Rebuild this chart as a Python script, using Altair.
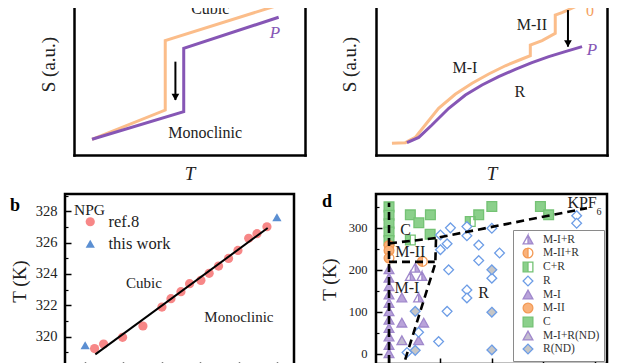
import altair as alt
import pandas as pd

FONT = "Liberation Serif"
INK = "#222222"
ORANGE = "#fbbd8a"
PURPLE = "#8656b5"
FRAME_W = 2.5

# ---------------- panel a : NPG schematic S(T) ----------------
a_series = ["0", "0", "0", "0", "P", "P", "P", "P"]
a_T = [0.78, 3.95, 3.95, 8.86, 0.78, 4.75, 4.75, 8.86]
a_S = [1.07, 3.06, 7.78, 10.20, 1.07, 2.95, 7.26, 9.37]
a_arrow_T = [4.39]
a_arrow_from = [6.35]
a_arrow_to = [3.74]
a_labels = ["Cubic", "Monoclinic"]
a_label_T = [5.90, 5.68]
a_label_S = [9.93, 1.48]
a_plabel_T = [8.70]
a_plabel_S = [8.30]

# ---------------- panel c : KPF6 schematic S(T) ----------------
c_orange_T = [0.69, 1.27, 1.70, 2.13, 2.71, 3.43, 4.16, 4.88, 5.60, 6.32, 6.68, 6.68,
              7.19, 7.76, 7.76, 8.05, 8.63, 9.21]
c_orange_S = [0.80, 0.84, 1.20, 2.04, 3.18, 4.13, 4.88, 5.51, 6.07, 6.53, 6.76, 7.48,
              7.78, 8.28, 9.52, 9.68, 10.09, 10.43]
c_purple_T = [1.34, 1.85, 2.42, 3.15, 3.87, 4.59, 5.31, 6.03, 6.75, 7.48, 8.19, 8.92]
c_purple_S = [0.84, 1.20, 2.04, 3.18, 4.08, 4.76, 5.33, 5.83, 6.28, 6.69, 7.03, 7.37]
c_arrow_T = [8.31]
c_arrow_from = [9.86]
c_arrow_to = [7.37]
c_labels = ["M-II", "M-I", "R"]
c_label_T = [6.75, 3.85, 6.23]
c_label_S = [8.84, 5.92, 4.29]
c_plabel_T = [9.35]
c_plabel_S = [7.14]
c_olabel_T = [9.26]
c_olabel_S = [9.80]

# ---------------- panel b : NPG transition temperature ----------------
b_ref_P = [5.0, 9.7, 19.6, 30.2, 40.1, 44.8, 50.0, 54.5, 60.4, 64.7, 69.6, 74.8,
           79.7, 85.3, 89.6, 94.8]
b_ref_T = [319.24, 319.53, 319.96, 320.68, 321.89, 322.42, 322.87, 323.38, 323.59,
           324.04, 324.50, 324.99, 325.50, 326.27, 326.57, 327.01]
b_this_P = [0.1, 100.0]
b_this_T = [319.45, 327.62]
b_fit_P = [5.4, 95.2]
b_fit_T = [318.87, 326.93]
b_labels = ["Cubic", "Monoclinic"]
b_label_P = [30.7, 80.2]
b_label_T = [323.4, 321.23]
b_xticks = [0, 20, 40, 60, 80, 100]
b_yticks = [318, 320, 322, 324, 326, 328]
b_yminor = [319, 321, 323, 325, 327, 329]

# ---------------- panel d : KPF6 phase diagram ----------------
d_types = ["M-I+R", "M-II+R", "C+R", "R", "M-I", "M-II", "C", "M-I+R(ND)", "R(ND)"]
d_C_P = [0, 0, 0, 0, 0, 0.083, 0.116, 0.161, 0.160, 0.349, 0.400, 0.589, 0.621]
d_C_T = [350, 330, 310, 290, 270, 331, 312, 331, 285, 331, 351, 351, 331]
d_CR_P = [0.083, 0.316]
d_CR_T = [271, 315]
d_MII_P = [0, 0]
d_MII_T = [258, 246]
d_MIIR_P = [0, 0.130]
d_MIIR_T = [228, 220]
d_MI_P = [0, 0, 0, 0, 0, 0, 0, 0, 0, 0, 0, 0.050, 0.050, 0.135, 0.115]
d_MI_T = [0, 20, 40, 60, 80, 100, 120, 140, 160, 180, 200, 133, 73, 73, 31]
d_MIR_P = [0.102, 0.083, 0.128, 0.115]
d_MIR_T = [204, 184, 184, 133]
d_MIRND_P = [0.050]
d_MIRND_T = [31]
d_R_P = [0.200, 0.239, 0.200, 0.226, 0.232, 0.226, 0.115, 0.193, 0.070, 0.303, 0.303,
         0.349, 0.349, 0.303, 0.303, 0.400, 0.430, 0.400, 0.730, 0.730]
d_R_T = [283, 300, 248, 262, 200, 101, 51, 29, 3, 303, 281, 259, 222, 152, 133, 299,
         240, 180, 329, 311]
d_RND_P = [0.102, 0.102, 0.400, 0.400, 0.400]
d_RND_T = [101, 8, 200, 99, 9]
d_bound_seg = ["v", "v", "top", "top", "bot", "bot", "cr", "cr", "cr", "cr"]
d_bound_P = [0, 0, 0, 0.185, 0, 0.178, 0.063, 0.180, 0.183, 0.770]
d_bound_T = [-22, 360, 263, 276, 219, 219, -14, 215, 276, 347]
d_labels = ["C", "M-II", "M-I", "R", "KPF"]
d_label_P = [0.064, 0.083, 0.070, 0.368, 0.751]
d_label_T = [295, 243.6, 156, 144, 359]
d_sub_P = [0.817]
d_sub_T = [338]
d_xticks = [0, 0.2, 0.4, 0.6, 0.8]
d_yticks = [0, 100, 200, 300]
d_yminor = [50, 150, 250, 350]

# symbol paths (unit box -1..1); half-filled ones use an opposite-winding sub-path
TRI = "M0,-1L1,0.8L-1,0.8Z"
TRI_HALF = TRI + "M0,-1L-1,0.8L0,0.8Z"
SQ = "M-1,-1L1,-1L1,1L-1,1Z"
SQ_HALF = SQ + "M0,-1L0,1L1,1L1,-1Z"
CIRC = "M0,-1A1,1 0 1,1 0,1A1,1 0 1,1 0,-1Z"
CIRC_HALF = CIRC + "M0,-1L0,1A1,1 0 0,0 0,-1Z"
DIAM = "M0,-1L1,0L0,1L-1,0Z"

PURP_L, PURP_S = "#b9a3da", "#a088cc"
ORNG, ORNG_S = "#f9b27b", "#f39a55"
GRN, GRN_S = "#8bd08b", "#74c274"
BLU = "#6d9de6"
GRAY = "#c6c6c6"


def lin(domain, rng=None):
    if rng is None:
        return alt.Scale(domain=domain, nice=False, zero=False)
    return alt.Scale(domain=domain, range=rng, nice=False, zero=False)


def frame_axis(**kw):
    base = dict(ticks=False, labels=False, grid=False, domainColor="black",
                domainWidth=FRAME_W, domainCap="square", titleFont=FONT,
                titleFontSize=19, titleFontWeight="normal", titleColor=INK)
    base.update(kw)
    return alt.Axis(**base)


def schematic(lines_df, arrow_df, lab_df, plab_df, olab_df, x_rng, left_offset, title_x):
    xs = lin([0, 10], x_rng)
    ys = lin([0, 10])
    X = alt.X("x:Q", scale=xs,
              axis=frame_axis(title="T", titleFontStyle="italic", titlePadding=9))
    left = frame_axis(title="S (a.u.)", offset=left_offset, titleX=title_x, titleY=56,
                      titleBaseline="alphabetic", titleAngle=-90)
    right = frame_axis(orient="right", title=None)
    lines = alt.Chart(lines_df).mark_line(strokeWidth=3, clip=True).encode(
        x=X, y=alt.Y("y:Q", scale=ys, axis=left),
        color=alt.Color("series:N", scale=alt.Scale(domain=["0", "P"], range=[ORANGE, PURPLE]),
                        legend=None),
        order="i:Q")
    rule = alt.Chart(arrow_df).mark_rule(strokeWidth=2, color="black", clip=True).encode(
        x=X, y=alt.Y("y:Q", scale=ys, axis=None), y2="y2:Q")
    head = alt.Chart(arrow_df).mark_point(shape="triangle-down", filled=True, size=60,
                                          color="black", opacity=1, yOffset=-3).encode(
        x=X, y=alt.Y("y2:Q", scale=ys, axis=None))
    labs = alt.Chart(lab_df).mark_text(font=FONT, fontSize=16, color=INK, clip=True).encode(
        x=X, y=alt.Y("y:Q", scale=ys, axis=right), text="t:N")
    layers = [lines, rule, head, labs]
    plab = alt.Chart(plab_df).mark_text(font=FONT, fontSize=17, fontStyle="italic",
                                        color=PURPLE, clip=True).encode(
        x=X, y=alt.Y("y:Q", scale=ys, axis=None), text="t:N")
    layers.append(plab)
    if olab_df is not None:
        olab = alt.Chart(olab_df).mark_text(font=FONT, fontSize=16, color="#f5a060",
                                            clip=True).encode(
            x=X, y=alt.Y("y:Q", scale=ys, axis=None), text="t:N")
        layers.append(olab)
    return alt.layer(*layers).resolve_axis(y="independent")


# ---- build panel a
a_lines_df = pd.DataFrame({"x": a_T, "y": a_S, "series": a_series, "i": list(range(len(a_T)))})
a_arrow_df = pd.DataFrame({"x": a_arrow_T, "y": a_arrow_from, "y2": a_arrow_to})
a_lab_df = pd.DataFrame({"x": a_label_T, "y": a_label_S, "t": a_labels})
a_plab_df = pd.DataFrame({"x": a_plabel_T, "y": a_plabel_S, "t": ["P"]})
panel_a = schematic(a_lines_df, a_arrow_df, a_lab_df, a_plab_df, None,
                    [9, 240], -9, -20).properties(width=240, height=147)

# ---- build panel c
c_lines_df = pd.DataFrame({
    "x": c_orange_T + c_purple_T,
    "y": c_orange_S + c_purple_S,
    "series": ["0"] * len(c_orange_T) + ["P"] * len(c_purple_T),
    "i": list(range(len(c_orange_T) + len(c_purple_T)))})
c_arrow_df = pd.DataFrame({"x": c_arrow_T, "y": c_arrow_from, "y2": c_arrow_to})
c_lab_df = pd.DataFrame({"x": c_label_T, "y": c_label_S, "t": c_labels})
c_plab_df = pd.DataFrame({"x": c_plabel_T, "y": c_plabel_S, "t": ["P"]})
c_olab_df = pd.DataFrame({"x": c_olabel_T, "y": c_olabel_S, "t": ["0"]})
panel_c = schematic(c_lines_df, c_arrow_df, c_lab_df, c_plab_df, c_olab_df,
                    None, 0, -21).properties(width=231, height=147)

# ---- build panel b
b_xs = lin([-10.4, 108.9])
b_ys = lin([318, 329.1])
b_X = alt.X("x:Q", scale=b_xs, axis=alt.Axis(
    values=b_xticks, tickSize=6, offset=-6, domain=False, tickColor="black", tickWidth=1.5,
    labelFont=FONT, labelFontSize=14.5, labelColor=INK, labelPadding=6, grid=False, title=None))
b_major = alt.Axis(orient="left", values=b_yticks, tickSize=6, offset=-6, domain=False,
                   tickColor="black", tickWidth=1.5, labelFont=FONT, labelFontSize=14.5,
                   labelColor=INK, labelPadding=8, grid=False, title="T (K)", titleFont=FONT,
                   titleFontSize=19, titleFontWeight="normal", titleColor=INK, titleX=-46,
                   titleBaseline="alphabetic", titleAngle=-90)
b_minor = alt.Axis(orient="left", values=b_yminor, tickSize=3, offset=-3, domain=False,
                   labels=False, tickColor="black", tickWidth=1.2, grid=False, title=None)
b_leg = alt.Legend(title="NPG", orient="top-left", offset=9, padding=0, titleFont=FONT,
                   titleFontSize=15.5, titleFontWeight="normal", titleColor=INK,
                   labelFont=FONT, labelFontSize=16.5, labelColor=INK, symbolSize=85,
                   symbolOffset=8, labelOffset=10, rowPadding=5, titlePadding=-5,
                   symbolStrokeWidth=0)
b_pts_df = pd.DataFrame({
    "x": b_ref_P + b_this_P, "y": b_ref_T + b_this_T,
    "src": ["ref.8"] * len(b_ref_P) + ["this work"] * len(b_this_P)})
b_src_dom = ["ref.8", "this work"]
b_pts = alt.Chart(b_pts_df).mark_point(filled=True, size=85, opacity=1).encode(
    x=b_X, y=alt.Y("y:Q", scale=b_ys, axis=b_minor),
    color=alt.Color("src:N", scale=alt.Scale(domain=b_src_dom, range=["#f78787", "#5b8fd2"]),
                    legend=b_leg),
    shape=alt.Shape("src:N", scale=alt.Scale(domain=b_src_dom, range=["circle", "triangle-up"]),
                    legend=b_leg))
b_fit = alt.Chart(pd.DataFrame({"x": b_fit_P, "y": b_fit_T})).mark_line(
    color="black", strokeWidth=2).encode(x=b_X, y=alt.Y("y:Q", scale=b_ys, axis=b_major))
b_txt = alt.Chart(pd.DataFrame({"x": b_label_P, "y": b_label_T, "t": b_labels})).mark_text(
    font=FONT, fontSize=15, color=INK).encode(
    x=b_X, y=alt.Y("y:Q", scale=b_ys, axis=None), text="t:N")
panel_b = alt.layer(b_pts, b_fit, b_txt).resolve_axis(y="independent").properties(
    width=229, height=174,
    view=alt.ViewBackground(stroke="black", strokeWidth=FRAME_W),
    title=alt.TitleParams(text="b", anchor="start", frame="group", dx=-55, dy=35, offset=0,
                          fontSize=18, fontWeight="bold", font=FONT, color="black",
                          baseline="alphabetic"))

# ---- build panel d
d_xs = lin([-0.0506, 0.848])
d_ys = lin([-24.5, 380.7])
d_X = alt.X("x:Q", scale=d_xs, axis=alt.Axis(
    values=d_xticks, tickSize=6, offset=-6, domain=False, tickColor="black", tickWidth=1.5,
    labelFont=FONT, labelFontSize=12, labelColor=INK, labelPadding=6, grid=False, title=None))
d_major = alt.Axis(orient="left", values=d_yticks, tickSize=6, offset=-6, domain=False,
                   tickColor="black", tickWidth=1.5, labelFont=FONT, labelFontSize=12.5,
                   labelColor=INK, labelPadding=9, grid=False, title="T (K)", titleFont=FONT,
                   titleFontSize=19, titleFontWeight="normal", titleColor=INK, titleX=-47,
                   titleBaseline="alphabetic", titleAngle=-90)
d_minor = alt.Axis(orient="left", values=d_yminor, tickSize=3, offset=-3, domain=False,
                   labels=False, tickColor="black", tickWidth=1.2, grid=False, title=None)
d_groups = [("M-I+R", d_MIR_P, d_MIR_T), ("M-II+R", d_MIIR_P, d_MIIR_T),
            ("C+R", d_CR_P, d_CR_T), ("R", d_R_P, d_R_T), ("M-I", d_MI_P, d_MI_T),
            ("M-II", d_MII_P, d_MII_T), ("C", d_C_P, d_C_T),
            ("M-I+R(ND)", d_MIRND_P, d_MIRND_T), ("R(ND)", d_RND_P, d_RND_T)]
d_rows = []
for name, ps, ts in [d_groups[6], d_groups[2], d_groups[5], d_groups[1], d_groups[4],
                     d_groups[0], d_groups[7], d_groups[3], d_groups[8]]:
    for p, t in zip(ps, ts):
        d_rows.append({"x": p, "y": t, "type": name})
d_pts_df = pd.DataFrame(d_rows)
d_shapes = [TRI_HALF, CIRC_HALF, SQ_HALF, DIAM, TRI, CIRC, SQ, TRI, DIAM]
d_fills = [PURP_L, ORNG, GRN, "white", PURP_L, ORNG, GRN, "#c3bccf", GRAY]
d_strokes = [PURP_S, ORNG_S, GRN_S, BLU, PURP_S, ORNG_S, GRN_S, PURP_S, BLU]
d_leg = alt.Legend(title=None, orient="bottom-right", offset=3, padding=4,
                   strokeColor="#8a8a8a", fillColor="white", labelFont=FONT,
                   labelFontSize=11.5, labelColor="#333333", symbolSize=95,
                   symbolStrokeWidth=1.3, rowPadding=-2, symbolOffset=5, labelOffset=9,
                   cornerRadius=0)
d_pts = alt.Chart(d_pts_df).mark_point(size=95, strokeWidth=1.3, opacity=1, fillOpacity=1).encode(
    x=d_X, y=alt.Y("y:Q", scale=d_ys, axis=d_minor),
    shape=alt.Shape("type:N", scale=alt.Scale(domain=d_types, range=d_shapes), legend=d_leg),
    fill=alt.Fill("type:N", scale=alt.Scale(domain=d_types, range=d_fills), legend=d_leg),
    stroke=alt.Stroke("type:N", scale=alt.Scale(domain=d_types, range=d_strokes), legend=d_leg))
d_bound_df = pd.DataFrame({"x": d_bound_P, "y": d_bound_T, "seg": d_bound_seg,
                           "i": list(range(len(d_bound_P)))})
d_lines = alt.Chart(d_bound_df).mark_line(color="black", strokeWidth=2.6,
                                          strokeDash=[8, 5]).encode(
    x=d_X, y=alt.Y("y:Q", scale=d_ys, axis=d_major), detail="seg:N", order="i:Q")
d_txt = alt.Chart(pd.DataFrame({"x": d_label_P, "y": d_label_T, "t": d_labels})).mark_text(
    font=FONT, fontSize=16, color=INK).encode(
    x=d_X, y=alt.Y("y:Q", scale=d_ys, axis=None), text="t:N")
d_sub = alt.Chart(pd.DataFrame({"x": d_sub_P, "y": d_sub_T, "t": ["6"]})).mark_text(
    font=FONT, fontSize=10, color=INK).encode(
    x=d_X, y=alt.Y("y:Q", scale=d_ys, axis=None), text="t:N")
panel_d = alt.layer(d_pts, d_lines, d_txt, d_sub).resolve_axis(y="independent").properties(
    width=231, height=170,
    view=alt.ViewBackground(stroke="black", strokeWidth=FRAME_W),
    title=alt.TitleParams(text="d", anchor="start", frame="group", dx=-54, dy=31, offset=0,
                          fontSize=18, fontWeight="bold", font=FONT, color="black",
                          baseline="alphabetic"))

chart = alt.concat(panel_a, panel_c, panel_b, panel_d, columns=2, bounds="flush",
                   spacing={"row": 39, "column": 71},
                   padding={"left": 0, "top": 0, "right": 5, "bottom": 5}).resolve_scale(
    color="independent", shape="independent", fill="independent", stroke="independent"
).resolve_legend(
    color="independent", shape="independent", fill="independent", stroke="independent"
).configure_view(stroke=None)

chart.save("out.html", embed_options={"renderer": "svg", "actions": False})
